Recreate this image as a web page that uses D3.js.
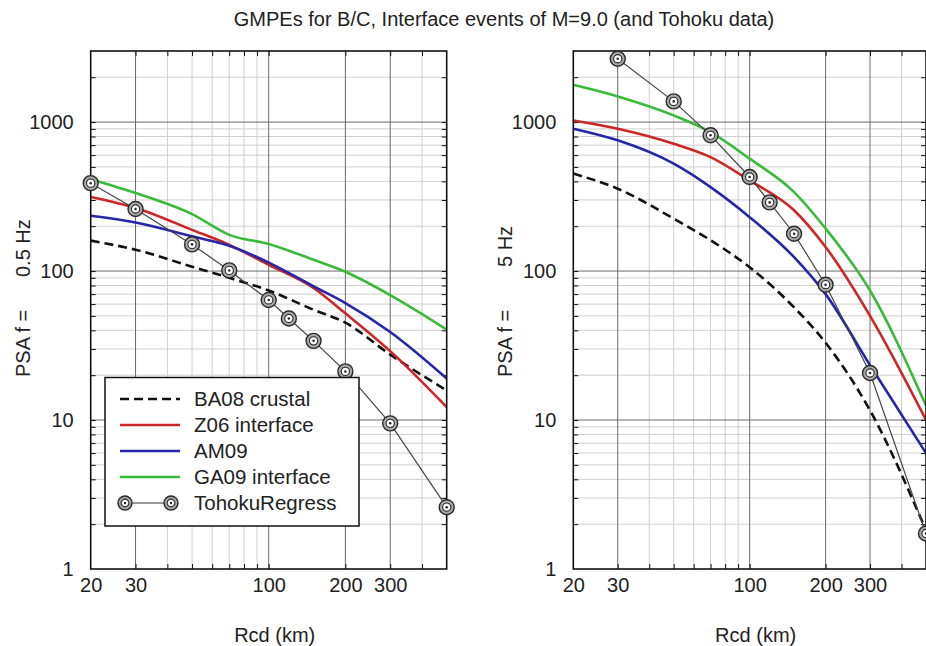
<!DOCTYPE html>
<html><head><meta charset="utf-8">
<script src="https://cdn.jsdelivr.net/npm/d3@7"></script>
<style>
body{margin:0;background:#fff}
text{font-family:Arial,"Liberation Sans",sans-serif;fill:#222}
</style>
</head><body>
<svg id="c" width="926" height="646"></svg>
<script>
// ---------- data ----------
const title = "GMPEs for B/C, Interface events of M=9.0 (and Tohoku data)";
const distances = [20, 30, 50, 70, 100, 150, 200, 300, 500];

// f = 0.5 Hz
const ba08_05 = [160, 139, 107, 90, 74, 55, 45, 27.5, 15.8];
const z06_05  = [314, 265, 189, 150, 110, 77, 52, 29, 12.2];
const am09_05 = [235, 212, 171, 148, 114, 79, 61, 39, 19];
const ga09_05 = [414, 334, 241, 175, 152, 119, 99, 69, 40.5];
const tohokuDist05 = [20, 30, 50, 70, 100, 120, 150, 200, 300, 500];
const tohoku05 = [389, 261, 151, 101, 64, 48, 34, 21.2, 9.5, 2.6];

// f = 5 Hz
const ba08_5 = [451, 357, 225, 161, 106, 57, 33, 11.6, 1.82];
const z06_5  = [1026, 903, 716, 582, 406, 256, 145, 50, 10];
const am09_5 = [903, 754, 526, 366, 230, 124, 70, 23.3, 6.0];
const ga09_5 = [1782, 1486, 1109, 857, 568, 339, 193, 74, 12.5];
const tohokuDist5 = [30, 50, 70, 100, 120, 150, 200, 300, 500];
const tohoku5 = [2663, 1377, 815, 428, 289, 178, 81, 20.7, 1.73];

const seriesNames = ["BA08 crustal", "Z06 interface", "AM09", "GA09 interface", "TohokuRegress"];
const xTickValues = [20, 30, 100, 200, 300];
const xTickLabels = ["20", "30", "100", "200", "300"];
const yTickValues = [1, 10, 100, 1000];
const yTickLabels = ["1", "10", "100", "1000"];
const xLabel = "Rcd (km)";
const yLabelPrefix = "PSA f =";
const freqLabels = ["0.5 Hz", "5 Hz"];

// ---------- drawing ----------
const svg = d3.select("#c");
svg.append("rect").attr("width", 926).attr("height", 646).attr("fill", "#fff");

svg.append("text").attr("x", 504).attr("y", 26).attr("text-anchor", "middle")
  .style("font-size", "20px").text(title);

const colors = ["#111", "#cc2626", "#2626aa", "#38bb38"];
const xDomain = [20, 500], yDomain = [1, 3000];

// minor tick values
const xMinor = [], yMinor = [];
[10, 100].forEach(dec => { for (let k = 2; k <= 9; k++) { const v = k * dec; if (v > 20 && v < 500 && !xTickValues.includes(v)) xMinor.push(v); } });
[1, 10, 100, 1000].forEach(dec => { for (let k = 2; k <= 9; k++) { const v = k * dec; if (v < 3000) yMinor.push(v); } });
const xAll = xMinor.concat(xTickValues.filter(v => v > 20));
const yAll = yMinor.concat(yTickValues.filter(v => v > 1));

const panels = [
  { x0: 90.7, x1: 446.7, y0: 569, y1: 51, series: [ba08_05, z06_05, am09_05, ga09_05], td: tohokuDist05, tv: tohoku05, freq: freqLabels[0], freqOff: 100, ylx: 23, legend: true },
  { x0: 573.3, x1: 926, y0: 569, y1: 51, series: [ba08_5, z06_5, am09_5, ga09_5], td: tohokuDist5, tv: tohoku5, freq: freqLabels[1], freqOff: 110, ylx: 505, legend: false }
];

function marker(g, cx, cy, r) {
  const m = g.append("g").attr("transform", `translate(${cx},${cy})`);
  m.append("circle").attr("r", r).attr("fill", "#a8a8a8").attr("stroke", "#2a2a2a").attr("stroke-width", 1.4);
  m.append("circle").attr("r", r * 0.55).attr("fill", "#fff").attr("stroke", "#2a2a2a").attr("stroke-width", 1.1);
  m.append("circle").attr("r", r * 0.17).attr("fill", "#2a2a2a");
}

panels.forEach((p, pi) => {
  const x = d3.scaleLog().domain(xDomain).range([p.x0, p.x1]);
  const y = d3.scaleLog().domain(yDomain).range([p.y0, p.y1]);
  const g = svg.append("g");
  const clipId = "clip" + pi;
  svg.append("clipPath").attr("id", clipId).append("rect")
    .attr("x", p.x0).attr("y", p.y1).attr("width", p.x1 - p.x0).attr("height", p.y0 - p.y1);

  // grid
  g.selectAll(".vminor").data(xMinor).join("line")
    .attr("x1", d => x(d)).attr("x2", d => x(d)).attr("y1", p.y1).attr("y2", p.y0)
    .attr("stroke", "#cfcfcf").attr("stroke-width", 1);
  g.selectAll(".hminor").data(yMinor).join("line")
    .attr("y1", d => y(d)).attr("y2", d => y(d)).attr("x1", p.x0).attr("x2", p.x1)
    .attr("stroke", "#cfcfcf").attr("stroke-width", 1);
  g.selectAll(".vmajor").data(xTickValues.filter(v => v > 20)).join("line")
    .attr("x1", d => x(d)).attr("x2", d => x(d)).attr("y1", p.y1).attr("y2", p.y0)
    .attr("stroke", "#6a6a6a").attr("stroke-width", 1);
  g.selectAll(".hmajor").data(yTickValues.filter(v => v > 1)).join("line")
    .attr("y1", d => y(d)).attr("y2", d => y(d)).attr("x1", p.x0).attr("x2", p.x1)
    .attr("stroke", "#6a6a6a").attr("stroke-width", 1);

  // inner tick marks on all four sides
  const tickAxes = [
    [d3.axisBottom(x).tickValues(xAll), `translate(0,${p.y0})`],
    [d3.axisTop(x).tickValues(xAll), `translate(0,${p.y1})`],
    [d3.axisLeft(y).tickValues(yAll), `translate(${p.x0},0)`],
    [d3.axisRight(y).tickValues(yAll), `translate(${p.x1},0)`]
  ];
  tickAxes.forEach(([ax, tr]) => {
    const a = g.append("g").attr("transform", tr)
      .call(ax.tickFormat("").tickSizeInner(-5).tickSizeOuter(0));
    a.select(".domain").remove();
    a.selectAll("line").attr("stroke", "#111").attr("stroke-width", 1);
  });

  // labels
  const xa = g.append("g").attr("transform", `translate(0,${p.y0})`)
    .call(d3.axisBottom(x).tickValues(xTickValues).tickFormat((d, i) => xTickLabels[i]).tickSize(0).tickPadding(9));
  xa.select(".domain").remove();
  xa.selectAll("text").style("font-size", "20px").attr("fill", "#222");
  const ya = g.append("g").attr("transform", `translate(${p.x0},0)`)
    .call(d3.axisLeft(y).tickValues(yTickValues).tickFormat((d, i) => yTickLabels[i]).tickSize(0).tickPadding(17));
  ya.select(".domain").remove();
  ya.selectAll("text").style("font-size", "20px").attr("fill", "#222");

  // axis titles
  g.append("text").attr("x", (p.x0 + p.x1) / 2 + 6).attr("y", 642).attr("text-anchor", "middle")
    .style("font-size", "20px").text(xLabel);
  const yl = g.append("text").attr("transform", `translate(${p.ylx + 7},377) rotate(-90)`)
    .style("font-size", "20px");
  yl.append("tspan").attr("x", 0).text(yLabelPrefix);
  yl.append("tspan").attr("x", p.freqOff).text(p.freq);

  // curves
  const curveG = g.append("g").attr("clip-path", `url(#${clipId})`);
  const line = d3.line().x(d => x(d[0])).y(d => y(d[1])).curve(d3.curveMonotoneX);
  p.series.forEach((vals, si) => {
    curveG.append("path").datum(distances.map((r, i) => [r, vals[i]]))
      .attr("d", line).attr("fill", "none").attr("stroke", colors[si]).attr("stroke-width", 2.6)
      .attr("stroke-dasharray", si === 0 ? "9,5" : null);
  });

  // border
  g.append("rect").attr("x", p.x0).attr("y", p.y1).attr("width", p.x1 - p.x0).attr("height", p.y0 - p.y1)
    .attr("fill", "none").attr("stroke", "#111").attr("stroke-width", 1.6);

  // Tohoku data
  const tPts = p.td.map((r, i) => [r, p.tv[i]]);
  const tl = d3.line().x(d => x(d[0])).y(d => y(d[1]));
  g.append("path").datum(tPts).attr("d", tl).attr("fill", "none").attr("stroke", "#444").attr("stroke-width", 1.2);
  const mg = g.append("g");
  tPts.forEach(d => marker(mg, x(d[0]), y(d[1]), 7.5));

  // legend
  if (p.legend) {
    const lg = g.append("g");
    lg.append("rect").attr("x", 105).attr("y", 377.5).attr("width", 254).attr("height", 148.5)
      .attr("fill", "#fff").attr("stroke", "#111").attr("stroke-width", 1.5);
    seriesNames.forEach((name, i) => {
      const cy = 399 + i * 26;
      if (i < 4) {
        lg.append("line").attr("x1", 120).attr("x2", 180).attr("y1", cy).attr("y2", cy)
          .attr("stroke", colors[i]).attr("stroke-width", 2.6).attr("stroke-dasharray", i === 0 ? "9,5" : null);
      } else {
        lg.append("line").attr("x1", 125).attr("x2", 171).attr("y1", cy).attr("y2", cy)
          .attr("stroke", "#333").attr("stroke-width", 1.2);
        marker(lg, 125, cy, 7);
        marker(lg, 171, cy, 7);
      }
      lg.append("text").attr("x", 194).attr("y", cy).attr("dy", "0.36em")
        .style("font-size", "20.5px").text(name);
    });
  }
});
</script>
</body></html>
